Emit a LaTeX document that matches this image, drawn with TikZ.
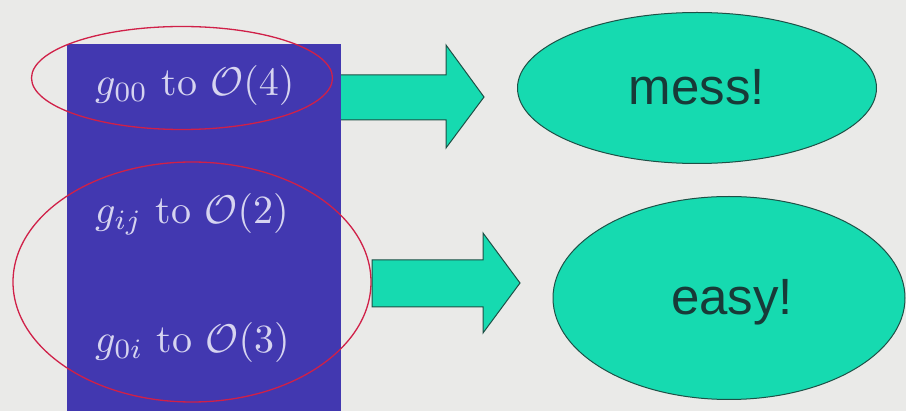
\documentclass[tikz,border=0pt]{standalone}
\usepackage{fontspec}
\newfontfamily\arialfont{Liberation Sans}
\usetikzlibrary{shapes.geometric}
\definecolor{bgcol}{RGB}{234,234,232}
\definecolor{boxblue}{RGB}{66,56,176}
\definecolor{txtcol}{RGB}{214,212,240}
\definecolor{greenfill}{RGB}{22,218,176}
\definecolor{greenline}{RGB}{30,80,70}
\definecolor{bubbleink}{RGB}{24,58,56}
\definecolor{redline}{RGB}{208,32,72}
\tikzset{
  blockarrow/.style={fill=greenfill, draw=greenline, line width=1pt, line join=miter},
  bubble/.style={ellipse, fill=greenfill, draw=greenline, line width=1pt, inner sep=0pt},
  bubbletxt/.style={font=\arialfont\fontsize{51}{60}\selectfont, text=bubbleink, anchor=base, inner sep=0pt},
  ring/.style={ellipse, draw=redline, line width=1.3pt, inner sep=0pt},
  mathtxt/.style={text=txtcol, anchor=base west, inner sep=0pt}
}
\begin{document}
\begin{tikzpicture}[x=1pt,y=-1pt]
\useasboundingbox (0,0) rectangle (906,411);
\fill[bgcol] (0,0) rectangle (906,411);
% blue panel
\fill[boxblue] (67,44) rectangle (341,411);
% texts
\node[mathtxt] (t1) at (95,96) {\scalebox{4}{$g_{00}$ to $\mathcal{O}(4)$}};
\node[mathtxt] (t2) at (95,224) {\scalebox{4}{$g_{ij}$ to $\mathcal{O}(2)$}};
\node[mathtxt] (t3) at (95,353) {\scalebox{4}{$g_{0i}$ to $\mathcal{O}(3)$}};
% red rings
\node[ring, minimum width=301pt, minimum height=103pt] (r1) at (182,78) {};
\node[ring, minimum width=358pt, minimum height=240pt] (r2) at (192,282) {};
% block arrows
\draw[blockarrow] (341,75) -- (446,75) -- (446,45) -- (484,97) -- (446,148) -- (446,120) -- (341,120);
\draw[blockarrow] (372,260) -- (483,260) -- (483,233) -- (520,283) -- (483,333) -- (483,307) -- (372,307) -- cycle;
% bubbles
\node[bubble, minimum width=359pt, minimum height=151pt] (mess) at (697,88) {};
\node[bubbletxt] (messt) at (697,105) {mess!};
\node[bubble, minimum width=352pt, minimum height=203pt] (easy) at (729,298) {};
\node[bubbletxt] (easyt) at (732,315) {easy!};
\end{tikzpicture}
\end{document}
